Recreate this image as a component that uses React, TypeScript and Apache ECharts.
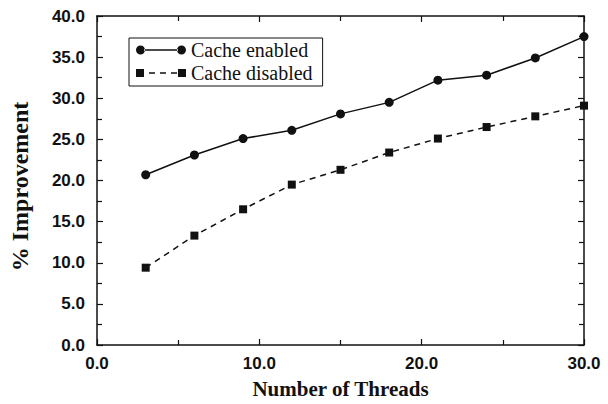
import React, { useEffect, useRef } from "react";
import * as echarts from "echarts";

const threads = [3, 6, 9, 12, 15, 18, 21, 24, 27, 30];
const cacheEnabled = [20.7, 23.1, 25.1, 26.1, 28.1, 29.5, 32.2, 32.8, 34.9, 37.5];
const cacheDisabled = [9.4, 13.3, 16.5, 19.5, 21.3, 23.4, 25.1, 26.5, 27.8, 29.1];
const seriesNames = ["Cache enabled", "Cache disabled"];
const xTitle = "Number of Threads";
const yTitle = "% Improvement";

const enabledIcon =
  "path://M0,4.5 A4.5,4.5 0 1,0 9,4.5 A4.5,4.5 0 1,0 0,4.5 Z M8,3.8 L42,3.8 L42,5.2 L8,5.2 Z M41,4.5 A4.5,4.5 0 1,0 50,4.5 A4.5,4.5 0 1,0 41,4.5 Z";
const disabledIcon =
  "path://M0,0.5 L8,0.5 L8,8.5 L0,8.5 Z M13,3.8 L19,3.8 L19,5.2 L13,5.2 Z M24,3.8 L30,3.8 L30,5.2 L24,5.2 Z M35,3.8 L41,3.8 L41,5.2 L35,5.2 Z M42,0.5 L50,0.5 L50,8.5 L42,8.5 Z";

export default function App() {
  const ref = useRef<HTMLDivElement>(null);
  useEffect(() => {
    if (!ref.current) return;
    const chart = echarts.init(ref.current, null, { renderer: "svg" });
    const axisColor = "#111";
    const tickLabel = {
      fontFamily: "Liberation Sans",
      fontWeight: "bold",
      fontSize: 17,
      color: "#111",
      formatter: (v: number) => v.toFixed(1),
    };
    const common = (min: number, max: number, interval: number) => ({
      type: "value" as const,
      min,
      max,
      interval,
      axisLine: { show: true, onZero: false, lineStyle: { color: axisColor, width: 1.5 } },
      axisTick: { show: true, inside: true, length: 6, lineStyle: { color: axisColor, width: 1.2 } },
      minorTick: { show: true, splitNumber: 2, length: 5, lineStyle: { color: axisColor, width: 1.2 } },
      splitLine: { show: false },
      minorSplitLine: { show: false },
    });
    chart.setOption({
      animation: false,
      backgroundColor: "#fff",
      grid: { left: 94, right: 24, top: 16, bottom: 56 },
      legend: {
        orient: "vertical",
        left: 129,
        top: 38,
        borderColor: "#111",
        borderWidth: 1,
        padding: [2, 10, 3, 7],
        itemGap: 3,
        itemWidth: 50,
        itemHeight: 9,
        data: [
          { name: seriesNames[0], icon: enabledIcon },
          { name: seriesNames[1], icon: disabledIcon },
        ],
        itemStyle: { borderWidth: 0 },
        textStyle: { fontFamily: "Liberation Serif", fontSize: 20, color: "#111", lineHeight: 20 },
      },
      xAxis: [
        {
          ...common(0, 30, 10),
          position: "bottom",
          name: xTitle,
          nameLocation: "middle",
          nameGap: 33,
          nameTextStyle: { fontFamily: "Liberation Serif", fontWeight: "bold", fontSize: 21, color: "#111" },
          axisLabel: { ...tickLabel, margin: 10 },
        },
        {
          ...common(0, 30, 10),
          position: "top",
          axisLabel: { show: false },
        },
      ],
      yAxis: [
        {
          ...common(0, 40, 5),
          position: "left",
          name: yTitle,
          nameLocation: "middle",
          nameGap: 65,
          nameTextStyle: {
            fontFamily: "Liberation Serif",
            fontWeight: "bold",
            fontSize: 24,
            color: "#111",
            padding: [0, 12, 0, 0],
          },
          axisLabel: { ...tickLabel, margin: 12 },
        },
        {
          ...common(0, 40, 5),
          position: "right",
          axisLabel: { show: false },
        },
      ],
      series: [
        {
          name: seriesNames[0],
          type: "line",
          xAxisIndex: 0,
          yAxisIndex: 0,
          data: threads.map((t, i) => [t, cacheEnabled[i]]),
          symbol: "circle",
          symbolSize: 9,
          lineStyle: { color: "#111", width: 1.5 },
          itemStyle: { color: "#111", borderWidth: 0 },
        },
        {
          name: seriesNames[1],
          type: "line",
          xAxisIndex: 0,
          yAxisIndex: 0,
          data: threads.map((t, i) => [t, cacheDisabled[i]]),
          symbol: "rect",
          symbolSize: 8,
          lineStyle: { color: "#111", width: 1.5, type: [6, 5] },
          itemStyle: { color: "#111", borderWidth: 0 },
        },
      ],
    });
    return () => chart.dispose();
  }, []);
  return (
    <div
      ref={ref}
      style={{ position: "fixed", left: 0, top: 0, width: 608, height: 404, background: "#fff" }}
    />
  );
}
